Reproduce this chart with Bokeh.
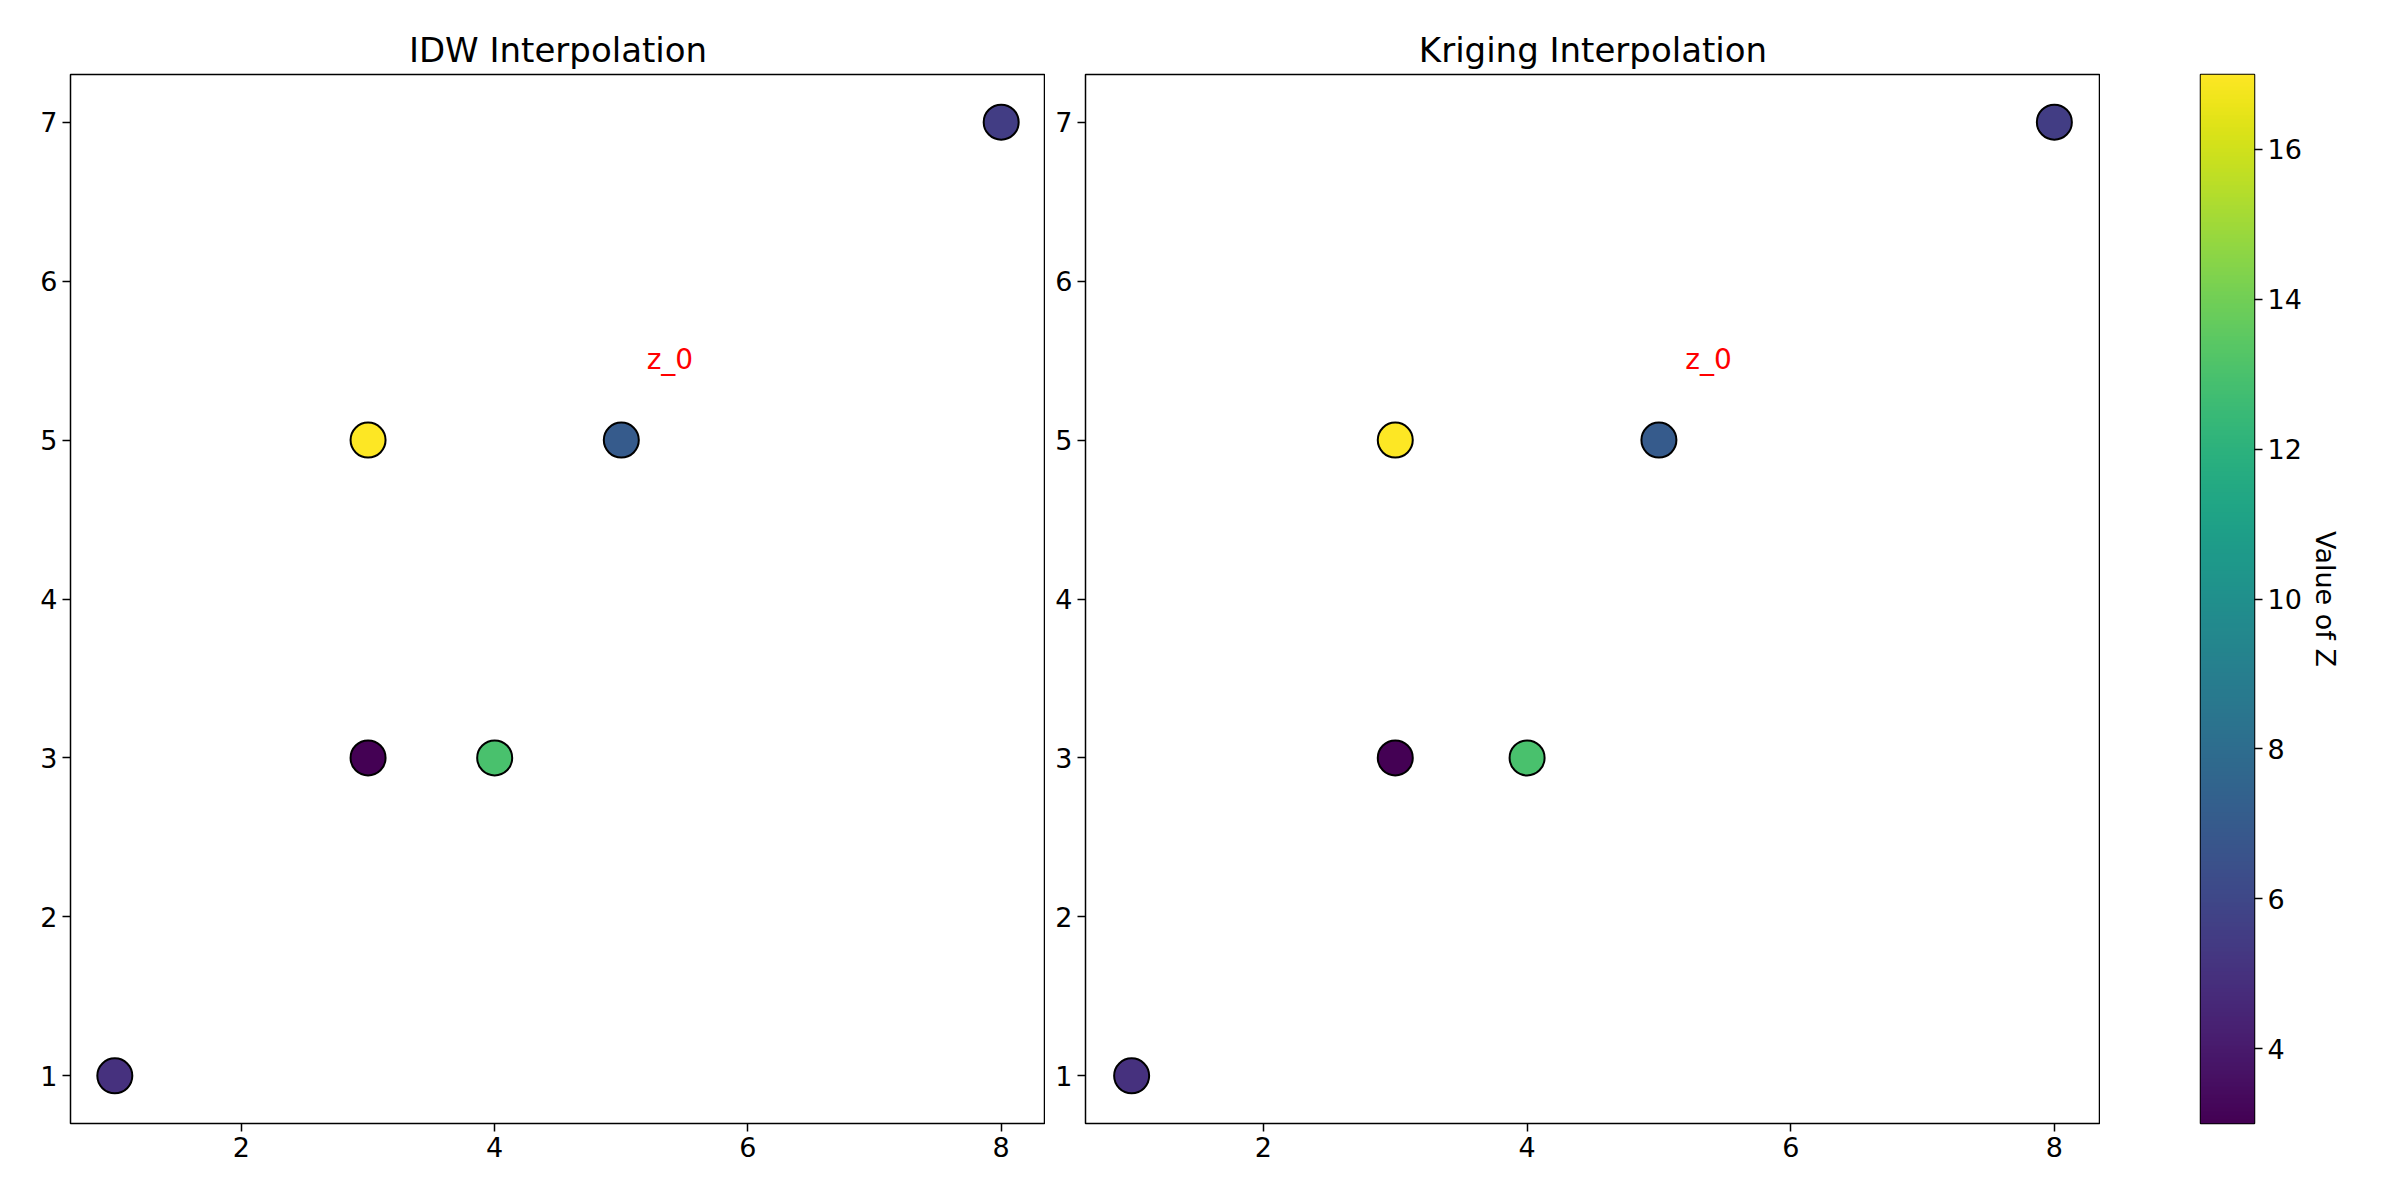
import numpy as np
from bokeh.plotting import figure
from bokeh.layouts import row
from bokeh.models import LinearColorMapper, Range1d, FixedTicker
from bokeh.palettes import Viridis256
from bokeh.core.properties import value
from bokeh.embed import file_html
from bokeh.resources import INLINE

xs = [1, 3, 3, 4, 5, 8]
ys = [1, 3, 5, 3, 5, 7]
zs = [5.0, 3.0, 17.0, 13.0, 7.0, 5.5]
label_x = [5.2]
label_y = [5.4]
label_text = ["z_0"]
titles = ["IDW Interpolation", "Kriging Interpolation"]
zmin, zmax = 3.0, 17.0

mapper = LinearColorMapper(palette=Viridis256, low=zmin, high=zmax)
FONT = "DejaVu Sans"


def style(p):
    p.xgrid.visible = False
    p.ygrid.visible = False
    p.outline_line_color = "black"
    p.outline_line_width = 1.5
    for ax in p.axis:
        ax.major_label_text_font_size = "27px"
        ax.major_label_text_font = FONT
        ax.major_label_text_color = "black"
        ax.axis_line_color = None
        ax.minor_tick_line_color = None
        ax.major_tick_out = 8
        ax.major_tick_in = 0
        ax.major_tick_line_width = 1.5


panels = []
for i, t in enumerate(titles):
    p = figure(width=1045 if i == 0 else 1055, height=1183,
               x_range=Range1d(0.65, 8.35), y_range=Range1d(0.7, 7.3),
               output_backend="svg", toolbar_location=None,
               min_border_left=70 if i == 0 else 40, min_border_right=0,
               min_border_top=74, min_border_bottom=60, title=t)
    p.title.align = "center"
    p.title.text_font = FONT
    p.title.text_font_size = "34px"
    p.title.text_font_style = "normal"
    p.title.text_color = "black"
    p.xaxis.ticker = FixedTicker(ticks=[2, 4, 6, 8])
    p.yaxis.ticker = FixedTicker(ticks=[1, 2, 3, 4, 5, 6, 7])
    style(p)
    p.scatter(x=xs, y=ys, size=35, line_color="black", line_width=2,
              fill_color=[Viridis256[int(round((z - zmin) / (zmax - zmin) * 255))] for z in zs])
    p.text(x=label_x, y=label_y, text=label_text, text_color="red",
           text_font_size="28px", text_font=value(FONT), text_baseline="bottom")
    panels.append(p)

cb = figure(width=274, height=1183, x_range=Range1d(0, 1), y_range=Range1d(zmin, zmax),
            output_backend="svg", toolbar_location=None,
            min_border_left=100, min_border_right=120,
            min_border_top=74, min_border_bottom=60,
            y_axis_location="right")
cb.image(image=[np.linspace(zmin, zmax, 256).reshape(256, 1)], x=0, y=zmin, dw=1, dh=zmax - zmin,
         color_mapper=mapper)
cb.xaxis.visible = False
cb.yaxis.ticker = FixedTicker(ticks=[4, 6, 8, 10, 12, 14, 16])
cb.yaxis.axis_label = "Value of Z"
cb.yaxis.axis_label_text_font = FONT
cb.yaxis.axis_label_text_font_size = "27px"
cb.yaxis.axis_label_text_font_style = "normal"
cb.yaxis.axis_label_text_color = "black"
cb.yaxis.axis_label_orientation = "vertical"
style(cb)

layout = row(panels[0], panels[1], cb)
open("out.html", "w").write(file_html(layout, INLINE))
